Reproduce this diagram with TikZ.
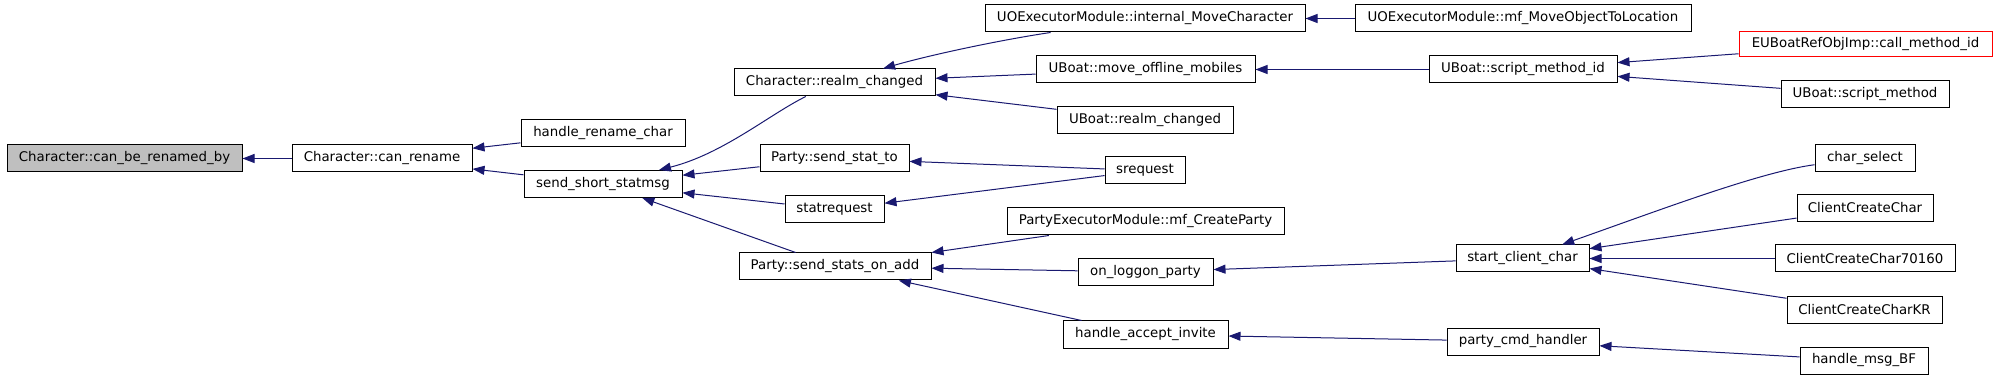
\documentclass[tikz,border=0pt]{standalone}
\usepackage{fontspec}
\setmainfont{DejaVu Sans}
\definecolor{edgeblue}{RGB}{25, 25, 112}
\definecolor{rootgray}{RGB}{191, 191, 191}
\definecolor{cutred}{RGB}{255, 0, 0}
\usetikzlibrary{arrows.meta}
\tikzset{
	func/.style={rectangle, draw=black, fill=white, line width=0.5pt, minimum height=13.5pt, inner sep=1.5pt, font=\fontsize{6.67}{8}\selectfont},
	rootfunc/.style={func, fill=rootgray},
	cutfunc/.style={func, draw=cutred, minimum height=12.5pt},
	wd/.style={minimum width=#1*0.5pt},
	call/.style={-{Triangle[length=6pt, width=4.5pt]}, line width=0.5pt, draw=edgeblue},
}

\begin{document}
\begin{tikzpicture}[x=0.5pt, y=-0.5pt]
	\useasboundingbox (0,0) rectangle (1997,379);
	% columns from left to right
	\node[rootfunc, wd=235] (root) at (124.5,158.5) {Character::can\_be\_renamed\_by};
	\node[func, wd=180] (canrename) at (382,158.5) {Character::can\_rename};
	\node[func, wd=164] (renamechar) at (603,133.5) {handle\_rename\_char};
	\node[func, wd=158] (shortstat) at (603,184) {send\_short\_statmsg};
	\node[func, wd=201] (realmchanged) at (834.5,82.5) {Character::realm\_changed};
	\node[func, wd=149] (sendstatto) at (834.5,158.5) {Party::send\_stat\_to};
	\node[func, wd=99] (statrequest) at (834.5,209.5) {statrequest};
	\node[func, wd=192] (statsonadd) at (835,266.5) {Party::send\_stats\_on\_add};
	\node[func, wd=320] (movechar) at (1145,18.5) {UOExecutorModule::internal\_MoveCharacter};
	\node[func, wd=219] (offlinemob) at (1145.5,69.5) {UBoat::move\_offline\_mobiles};
	\node[func, wd=176] (boatrealm) at (1145,120) {UBoat::realm\_changed};
	\node[func, wd=80] (srequest) at (1145,170.5) {srequest};
	\node[func, wd=277] (createparty) at (1145.5,221.5) {PartyExecutorModule::mf\_CreateParty};
	\node[func, wd=135] (loggon) at (1145.5,272) {on\_loggon\_party};
	\node[func, wd=165] (acceptinv) at (1145.5,334.5) {handle\_accept\_invite};
	\node[func, wd=336] (moveobj) at (1523,18.5) {UOExecutorModule::mf\_MoveObjectToLocation};
	\node[func, wd=188] (scriptid) at (1523,69.5) {UBoat::script\_method\_id};
	\node[func, wd=133] (startchar) at (1522.5,258.5) {start\_client\_char};
	\node[func, wd=152] (partycmd) at (1523,341.5) {party\_cmd\_handler};
	\node[cutfunc, wd=253] (callid) at (1865.5,44.5) {EUBoatRefObjImp::call\_method\_id};
	\node[func, wd=168] (scriptmethod) at (1865,94.5) {UBoat::script\_method};
	\node[func, wd=100] (charselect) at (1865,158) {char\_select};
	\node[func, wd=136] (ccchar) at (1865,208) {ClientCreateChar};
	\node[func, wd=180] (cc70160) at (1865,258.5) {ClientCreateChar70160};
	\node[func, wd=155] (cckr) at (1864.5,310) {ClientCreateCharKR};
	\node[func, wd=128] (msgbf) at (1864,360.5) {handle\_msg\_BF};
	% callers point back to callees
	\draw[call] (canrename) -- (root);
	\draw[call] (renamechar) -- (canrename);
	\draw[call] (shortstat) -- (canrename);
	\draw[call] (realmchanged) .. controls (770,114) and (723,154) .. (shortstat);
	\draw[call] (sendstatto) -- (shortstat);
	\draw[call] (statrequest) -- (shortstat);
	\draw[call] (statsonadd) -- (shortstat);
	\draw[call] (movechar) .. controls (1000,40) and (930,55) .. (realmchanged);
	\draw[call] (offlinemob) -- (realmchanged);
	\draw[call] (boatrealm) -- (realmchanged);
	\draw[call] (srequest) -- (sendstatto);
	\draw[call] (srequest) -- (statrequest);
	\draw[call] (createparty) -- (statsonadd);
	\draw[call] (loggon) -- (statsonadd);
	\draw[call] (acceptinv) -- (statsonadd);
	\draw[call] (moveobj) -- (movechar);
	\draw[call] (scriptid) -- (offlinemob);
	\draw[call] (startchar) -- (loggon);
	\draw[call] (partycmd) -- (acceptinv);
	\draw[call] (callid) -- (scriptid);
	\draw[call] (scriptmethod) -- (scriptid);
	\draw[call] (charselect) .. controls (1760,172) and (1660,210) .. (startchar);
	\draw[call] (ccchar) -- (startchar);
	\draw[call] (cc70160) -- (startchar);
	\draw[call] (cckr) -- (startchar);
	\draw[call] (msgbf) -- (partycmd);
\end{tikzpicture}
\end{document}
